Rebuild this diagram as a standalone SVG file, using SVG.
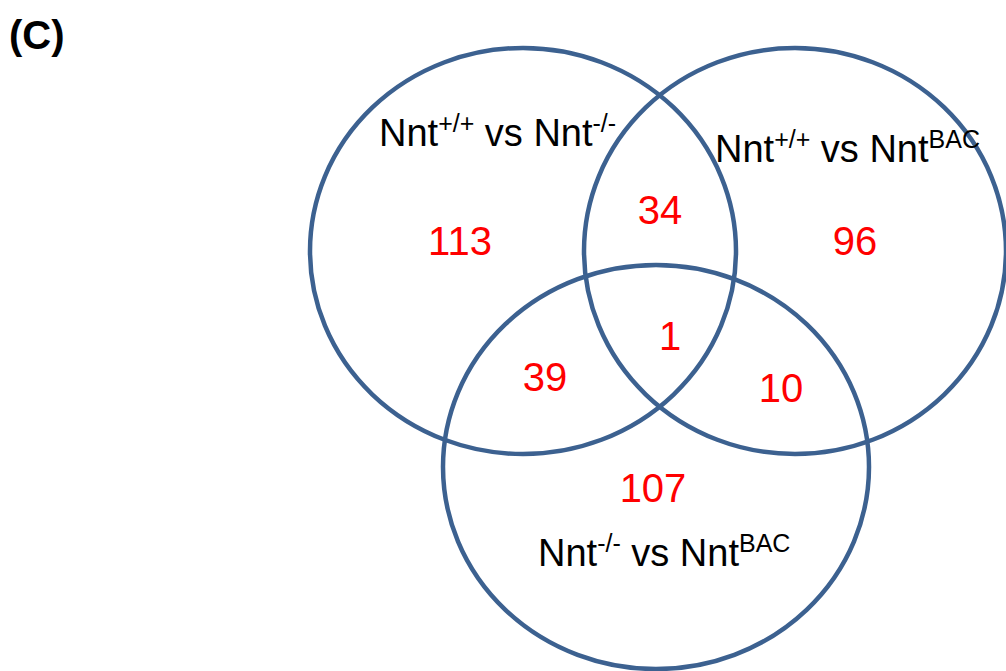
<svg xmlns="http://www.w3.org/2000/svg" width="1006" height="671" viewBox="0 0 1006 671">
<style>
.set{fill:none;stroke:#3C6190;stroke-width:4.5}
.lbl{font-family:"Liberation Sans",Arial,sans-serif;font-size:38px;fill:#000}
.sup{font-size:25px}
.num{font-family:"Liberation Sans",Arial,sans-serif;font-size:40px;fill:#FF0000;text-anchor:middle}
.title{font-family:"Liberation Sans",Arial,sans-serif;font-size:40px;font-weight:bold;fill:#000}
</style>
<rect width="1006" height="671" fill="#fff"/>
<text class="title" x="9" y="49">(C)</text>
<g id="set-a">
<ellipse class="set" cx="523" cy="251" rx="213" ry="203"/>
<text class="lbl" x="379" y="146">Nnt<tspan class="sup" dy="-14">+/+</tspan><tspan dy="14"> vs Nnt</tspan><tspan class="sup" dy="-14">-/-</tspan></text>
</g>
<g id="set-b">
<ellipse class="set" cx="795" cy="251" rx="211" ry="203"/>
<text class="lbl" x="715" y="162">Nnt<tspan class="sup" dy="-14">+/+</tspan><tspan dy="14"> vs Nnt</tspan><tspan class="sup" dy="-14">BAC</tspan></text>
</g>
<g id="set-c">
<ellipse class="set" cx="656" cy="467" rx="213" ry="202"/>
<text class="lbl" x="538" y="566">Nnt<tspan class="sup" dy="-14">-/-</tspan><tspan dy="14"> vs Nnt</tspan><tspan class="sup" dy="-14">BAC</tspan></text>
</g>
<g id="counts">
<text class="num" x="460" y="255">113</text>
<text class="num" x="660" y="224">34</text>
<text class="num" x="855" y="255">96</text>
<text class="num" x="670" y="350">1</text>
<text class="num" x="545" y="391">39</text>
<text class="num" x="781" y="402">10</text>
<text class="num" x="653" y="502">107</text>
</g>
</svg>
